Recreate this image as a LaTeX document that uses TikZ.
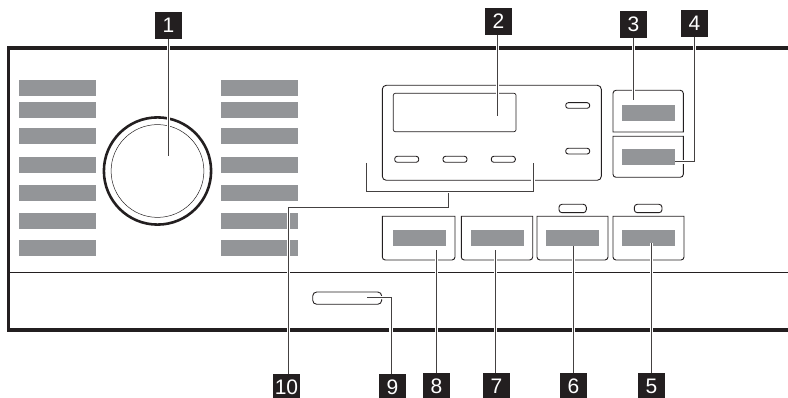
\documentclass[tikz,border=0pt]{standalone}
\usepackage{fontspec}
\setmainfont{Liberation Sans}
\usetikzlibrary{positioning,calc}
\definecolor{barcol}{HTML}{939598}
\definecolor{inkcol}{HTML}{231F20}

\begin{document}
\begin{tikzpicture}[
  x=1pt, y=-1pt,
  badge/.style={fill=inkcol, text=white, inner sep=0pt, minimum width=27pt, minimum height=27pt, font=\fontsize{21}{21}\selectfont},
  outline/.style={draw=inkcol, line width=0.9pt},
  pill/.style={draw=inkcol, line width=0.9pt, rounded corners=2.5pt},
  lead/.style={draw=inkcol!85, line width=1pt, preaction={draw=white, line width=3.4pt}}
]
\useasboundingbox (0,0) rectangle (788,398);

% ---------- housing ----------
\draw[inkcol, line width=3.8pt] (788,48) -- (8.5,48) -- (8.5,330.3) -- (788,330.3);
\draw[inkcol, line width=0.9pt] (8.5,272.7) -- (788,272.7);

% ---------- grey labels beside the dial ----------
\foreach \y in {80,102,128,157,185,213,240} {
  \fill[barcol] (19,\y) rectangle (96,\y+16);
  \fill[barcol] (221,\y) rectangle (298,\y+16);
}

% ---------- dial ----------
\draw[inkcol, line width=2.6pt] (157.5,171) circle [radius=53.6];
\draw[inkcol, line width=0.5pt] (157.5,171) circle [radius=46.4];

% ---------- display ----------
\draw[outline, rounded corners=4pt] (382.3,85.3) rectangle (601.3,180.3);
\draw[outline, line width=0.7pt, rounded corners=2pt] (393.3,93.3) rectangle (516,131.7);
\draw[pill] (565.7,102.7) rectangle (589.7,108.3);
\draw[pill] (565.7,148.3) rectangle (589.7,154);
\foreach \x in {394.7,443,491.3}
  \draw[pill] (\x,156.3) rectangle (\x+24,162.3);

% ---------- buttons ----------
\draw[outline] (613,132) [rounded corners=3pt] -- (613,90.3) -- (683.3,90.3) [sharp corners] -- (683.3,132) -- cycle;
\fill[barcol] (622,105) rectangle (675,121);
\draw[outline] (613,136.3) [rounded corners=3pt] -- (613,177.3) -- (683.3,177.3) [sharp corners] -- (683.3,136.3) -- cycle;
\fill[barcol] (622,149) rectangle (675,165);
\foreach \xa/\xb/\xg in {382.3/455/393, 461.3/532.7/471, 537/608/546, 613/684/622} {
  \draw[outline] (\xa,216.3) [rounded corners=3pt] -- (\xa,260) -- (\xb,260) [sharp corners] -- (\xb,216.3) -- cycle;
  \fill[barcol] (\xg,230) rectangle (\xg+53,246);
}
\draw[pill, rounded corners=3pt] (559,204.3) rectangle (586.3,212.7);
\draw[pill, rounded corners=3pt] (634.3,204.3) rectangle (662,212.7);
\draw[pill, rounded corners=4pt] (312.7,292) rectangle (381.7,304.3);

% ---------- number badges ----------
\node[badge] (n1) at (168.5,25.5) {1};
\node[badge] (n2) at (498.5,21.5) {2};
\node[badge] (n3) at (633.5,24.5) {3};
\node[badge] (n4) at (694.5,23.5) {4};
\node[badge] (n5) at (651.5,386.5) {5};
\node[badge] (n6) at (573.5,386.5) {6};
\node[badge] (n7) at (496.5,386.5) {7};
\node[badge] (n8) at (436.5,386.5) {8};
\node[badge] (n9) at (392.5,387.5) {9};
\node[badge] (n10) at (286.5,387.5) {10};

% ---------- leader ends ----------
\coordinate (e1) at (168.5,156);
\coordinate (e2) at (497.7,115.7);
\coordinate (e3) at (633.3,100);
\coordinate (e4) at (675,162);
\coordinate (e5) at (651.3,243);
\coordinate (e6) at (573.7,246);
\coordinate (e7) at (495.7,250);
\coordinate (e8) at (436.3,250);
\coordinate (e9) at (367,297.7);
\coordinate (c9) at (391,297.7);
\coordinate (c10) at (288.5,208);
\coordinate (brl) at (366.3,163);
\coordinate (brr) at (533,163);
\coordinate (brm) at (448.7,191.7);

% ---------- leaders ----------
\draw[lead] (n1.south -| e1) -- (e1);
\draw[lead] (n2.south -| e2) -- (e2);
\draw[lead] (n3.south -| e3) -- (e3);
\draw[lead] (n4.south) |- (e4);
\draw[lead] (n5.north -| e5) -- (e5);
\draw[lead] (n6.north -| e6) -- (e6);
\draw[lead] (n7.north -| e7) -- (e7);
\draw[lead] (n8.north -| e8) -- (e8);
\draw[lead] (n9.north -| c9) |- (e9);
\draw[lead] (n10.north -| c10) -- (c10) -| (brm);
\draw[lead] (brl) |- (brm) -| (brr);
\end{tikzpicture}
\end{document}
